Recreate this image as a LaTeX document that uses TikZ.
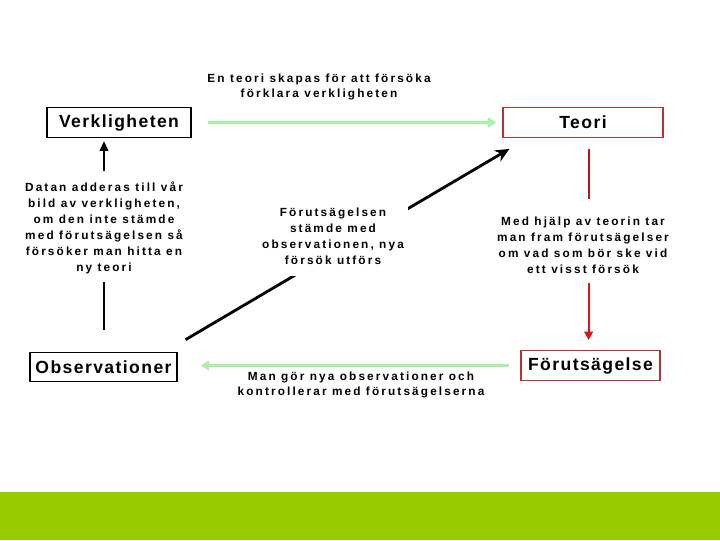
\documentclass[tikz,border=0pt]{standalone}
\usepackage{fontspec}
\setmainfont{Liberation Sans}
\newfontfamily\boxfont{Liberation Sans}[LetterSpace=8]
\newfontfamily\notefont{Liberation Sans}[LetterSpace=18]
\usetikzlibrary{arrows.meta}
\definecolor{boxred}{RGB}{192,48,48}
\definecolor{darkred}{RGB}{190,20,20}
\definecolor{linered}{RGB}{222,20,20}
\definecolor{palegreen}{RGB}{168,242,168}
\definecolor{bandgreen}{RGB}{153,204,0}

\begin{document}
\begin{tikzpicture}[x=0.025cm, y=-0.025cm,
    stage/.style={draw, line width=0.8pt, minimum height=0.74cm, inner sep=0pt,
      font=\boxfont\bfseries\fontsize{12.5}{14}\selectfont},
    note/.style={align=center, inner sep=1pt,
      font=\notefont\bfseries\fontsize{8.4}{11.3}\selectfont},
    greenflow/.style={line width=2.2pt, palegreen, -{Triangle[length=6pt,width=7pt]}},
    redflow/.style={line width=1.6pt},
    blackflow/.style={line width=1.6pt, black}]
    \useasboundingbox (0,0) rectangle (720,540);

    % --- Bottom band ---
    \fill[bandgreen] (0,492) rectangle (720,540);

    % --- Stage boxes ---
    \node[stage, minimum width=3.6cm] (verk) at (119,122.5) {Verkligheten};
    \node[stage, boxred, text=black, minimum width=4cm] (teori) at (583,122.5) {Teori};
    \node[stage, minimum width=3.675cm] (obs) at (103.5,367) {Observationer};
    \node[stage, boxred, text=black, minimum width=3.475cm] (forut) at (590.5,365.5) {Förutsägelse};

    % --- Notes beside the arrows ---
    \node[note] (skapas) at (319,87) {En teori skapas för att försöka\\förklara verkligheten};
    \node[note] (datan) at (104,228) {Datan adderas till vår\\bild av verkligheten,\\om den inte stämde\\med förutsägelsen så\\försöker man hitta en\\ny teori};
    \node[note] (medhjalp) at (583,245) {Med hjälp av teorin tar\\man fram förutsägelser\\om vad som bör ske vid\\ett visst försök};
    \node[note] (kontroll) at (361,385) {Man gör nya observationer och\\kontrollerar med förutsägelserna};

    % --- Cycle arrows ---
    \coordinate (redx) at ([xshift=4]teori.south);
    \draw[greenflow, shorten <=0.4cm, shorten >=0.15cm] (verk.east) -- (teori.west);
    \draw[greenflow, shorten <=0.28cm, shorten >=0.58cm] (forut.west) -- (forut.west -| obs.east);
    \draw[redflow, darkred, shorten <=0.28cm, shorten >=0.4cm] (redx) -- (redx |- medhjalp.north);
    \draw[redflow, linered, -{Triangle[length=6pt,width=6pt]}, shorten <=0.2cm, shorten >=0.25cm] (redx |- medhjalp.south) -- (redx |- forut.north);
    \draw[blackflow, shorten <=0.55cm, shorten >=0.15cm] (obs.north -| datan) -- (datan.south);
    \draw[blackflow, -{Triangle[length=7pt,width=6pt]}, shorten <=0.25cm, shorten >=0.08cm] (datan.north) -- (verk.south -| datan);

    % --- Diagonal back to the theory, hidden behind the middle note ---
    \draw[line width=2pt, -{Stealth[length=10pt,width=9pt]}] ([shift={(8,-12)}]obs.north east) -- ([shift={(7,11)}]teori.south west);
    \node[note, fill=white, inner xsep=0.1cm, inner ysep=0.29cm] (stamde) at (333,236) {Förutsägelsen\\stämde med\\observationen, nya\\försök utförs};
\end{tikzpicture}
\end{document}
